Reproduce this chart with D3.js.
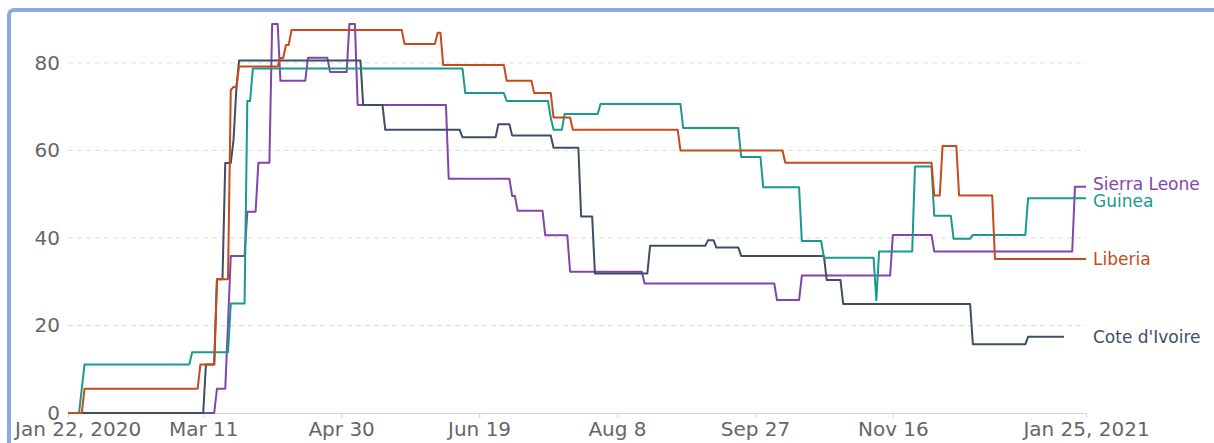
<!DOCTYPE html>
<html lang="en">

<head>
    <meta charset="UTF-8">
    <script src="https://d3js.org/d3.v7.min.js"></script>
    <style>
        body {
            margin: 0;
            background: #fff;
        }

        svg text {
            font-family: "DejaVu Sans", sans-serif;
        }

        .grid line {
            stroke: #dcdcdc;
            stroke-dasharray: 5 4;
        }

        .x-axis path,
        .x-axis line {
            stroke: #d6d6d6;
        }

        .x-axis text,
        .y-label {
            fill: #666;
            font-size: 20px;
        }

        .series {
            fill: none;
            stroke-width: 2;
            stroke-linejoin: round;
        }
    </style>
    <title>stringency</title>
</head>

<body>
    <svg width="1214" height="443"></svg>
    <script>
        // country names, in drawing order (last one ends up on top)
        const countries = ['Sierra Leone', "Cote d'Ivoire", 'Guinea', 'Liberia'];
        const colors = ['#8245ad', '#3e4f63', '#189a8d', '#c9491a'];

        // each series is a list of [date the value changed, new value]
        const sierraLeone = [
            ['2020-01-22', 0], ['2020-03-16', 5.56], ['2020-03-20', 20.4], ['2020-03-21', 35.9],
            ['2020-03-27', 46.0], ['2020-03-31', 57.2], ['2020-04-05', 88.89], ['2020-04-08', 75.9],
            ['2020-04-18', 81.2], ['2020-04-26', 77.9], ['2020-05-03', 88.89], ['2020-05-06', 70.4],
            ['2020-06-08', 53.5], ['2020-07-01', 49.6], ['2020-07-03', 46.2], ['2020-07-13', 40.6],
            ['2020-07-22', 32.3], ['2020-08-18', 29.6], ['2020-10-05', 25.8], ['2020-10-14', 31.4],
            ['2020-11-16', 40.7], ['2020-12-01', 36.9], ['2021-01-21', 51.7]
        ];
        const coteDIvoire = [
            ['2020-01-22', 0], ['2020-03-12', 11.11], ['2020-03-16', 30.56], ['2020-03-19', 57.1],
            ['2020-03-22', 62.4], ['2020-03-23', 73.8], ['2020-03-24', 80.56], ['2020-05-08', 70.4],
            ['2020-05-16', 64.7], ['2020-06-13', 63.0], ['2020-06-26', 66.0], ['2020-07-01', 63.4],
            ['2020-07-16', 60.6], ['2020-07-26', 44.9], ['2020-07-31', 31.9], ['2020-08-20', 38.2],
            ['2020-09-10', 39.5], ['2020-09-13', 37.8], ['2020-09-22', 35.9], ['2020-10-23', 30.4],
            ['2020-10-29', 24.9], ['2020-12-15', 15.7], ['2021-01-04', 17.4]
        ];
        const guinea = [
            ['2020-01-22', 0], ['2020-01-27', 5.56], ['2020-01-28', 11.11], ['2020-03-07', 13.89],
            ['2020-03-21', 25], ['2020-03-27', 71.3], ['2020-03-29', 78.7], ['2020-06-14', 73.1],
            ['2020-06-29', 71.3], ['2020-07-15', 67.4], ['2020-07-16', 64.7], ['2020-07-20', 68.3],
            ['2020-08-02', 70.6], ['2020-09-01', 65.1], ['2020-09-22', 58.5], ['2020-09-30', 51.6],
            ['2020-10-14', 39.3], ['2020-10-22', 35.5], ['2020-11-10', 25.8], ['2020-11-11', 36.9],
            ['2020-11-24', 56.3], ['2020-12-01', 45.1], ['2020-12-08', 39.8], ['2020-12-15', 40.7],
            ['2021-01-04', 49.1]
        ];
        const liberia = [
            ['2020-01-22', 0], ['2020-01-28', 5.56], ['2020-03-10', 11.11], ['2020-03-16', 30.56],
            ['2020-03-21', 73.8], ['2020-03-22', 74.5], ['2020-03-24', 79.2], ['2020-04-08', 81.1],
            ['2020-04-10', 84.1], ['2020-04-12', 87.5], ['2020-05-23', 84.3], ['2020-06-04', 86.9],
            ['2020-06-06', 79.5], ['2020-06-29', 75.9], ['2020-07-09', 73.1], ['2020-07-16', 67.5],
            ['2020-07-23', 64.7], ['2020-08-31', 60.0], ['2020-10-08', 57.2], ['2020-12-01', 49.7],
            ['2020-12-04', 61.0], ['2020-12-10', 49.7], ['2020-12-23', 35.2]
        ];
        // last day with data for each country
        const endDates = ['2021-01-25', '2021-01-17', '2021-01-25', '2021-01-25'];

        // axis ticks
        const tickDates = ['2020-01-22', '2020-03-11', '2020-04-30', '2020-06-19', '2020-08-08',
            '2020-09-27', '2020-11-16', '2021-01-25'];
        const tickLabels = ['Jan 22, 2020', 'Mar 11', 'Apr 30', 'Jun 19', 'Aug 8', 'Sep 27', 'Nov 16', 'Jan 25, 2021'];
        const yTicks = [0, 20, 40, 60, 80];

        const parse = d3.utcParse('%Y-%m-%d');

        // turn the change list into daily-style points: hold the old value
        // until the day before the change, then move to the new one
        function expand(steps, end) {
            const pts = [];
            steps.forEach(([d, v], i) => {
                const date = parse(d);
                if (i > 0) pts.push({ date: d3.utcDay.offset(date, -1), value: steps[i - 1][1] });
                pts.push({ date, value: v });
            });
            pts.push({ date: parse(end), value: steps[steps.length - 1][1] });
            return pts;
        }

        const allSteps = [sierraLeone, coteDIvoire, guinea, liberia];
        const series = countries.map((name, i) => ({
            name,
            color: colors[i],
            points: expand(allSteps[i], endDates[i])
        }));

        const svg = d3.select('svg');
        const width = +svg.attr('width'), height = +svg.attr('height');
        const margin = { top: 24, right: 128, bottom: 30, left: 68 };

        // blue frame round the chart
        svg.append('rect')
            .attr('x', 9).attr('y', 10)
            .attr('width', width + 20).attr('height', height + 20)
            .attr('rx', 5)
            .attr('fill', 'none')
            .attr('stroke', '#8eaadc')
            .attr('stroke-width', 4);

        const xScale = d3.scaleUtc()
            .domain([parse(tickDates[0]), parse(tickDates[tickDates.length - 1])])
            .range([margin.left, width - margin.right]);

        const maxVal = d3.max(allSteps, s => d3.max(s, d => d[1]));
        const yScale = d3.scaleLinear()
            .domain([0, maxVal])
            .range([height - margin.bottom, margin.top]);

        // dashed grid lines (none at 0, the axis line sits there)
        svg.append('g').attr('class', 'grid')
            .selectAll('line')
            .data(yTicks.filter(t => t > 0))
            .join('line')
            .attr('x1', xScale.range()[0])
            .attr('x2', xScale.range()[1])
            .attr('y1', d => yScale(d))
            .attr('y2', d => yScale(d));

        // y labels
        svg.append('g')
            .selectAll('text')
            .data(yTicks)
            .join('text')
            .attr('class', 'y-label')
            .attr('x', margin.left - 8)
            .attr('y', d => yScale(d))
            .attr('text-anchor', 'end')
            .attr('dominant-baseline', 'central')
            .text(d => d);

        // x axis
        const xAxis = svg.append('g')
            .attr('class', 'x-axis')
            .attr('transform', `translate(0, ${height - margin.bottom})`)
            .call(d3.axisBottom(xScale)
                .tickValues(tickDates.map(parse))
                .tickFormat((d, i) => tickLabels[i])
                .tickSize(5)
                .tickPadding(4)
                .tickSizeOuter(0));
        xAxis.select('.domain').attr('stroke', '#d6d6d6');

        // keep the first date label inside the frame
        xAxis.selectAll('.tick text').each(function () {
            const box = this.getBBox();
            const tx = +d3.select(this.parentNode).attr('transform').match(/translate\(([-\d.]+)/)[1];
            const left = tx + box.x;
            if (left < 13) d3.select(this).attr('x', 13 - left);
        });

        const line = d3.line()
            .x(d => xScale(d.date))
            .y(d => yScale(d.value));

        svg.append('g')
            .selectAll('path')
            .data(series)
            .join('path')
            .attr('class', 'series')
            .attr('stroke', d => d.color)
            .attr('d', d => line(d.points));

        // end labels, nudged apart when they are too close
        const labels = series.map(s => {
            const last = s.points[s.points.length - 1];
            return { name: s.name, color: s.color, y: yScale(last.value) };
        }).sort((a, b) => a.y - b.y);
        const gap = 17;
        for (let k = 0; k < 5; k++) {
            for (let i = 1; i < labels.length; i++) {
                const diff = labels[i].y - labels[i - 1].y;
                if (diff < gap) {
                    const push = (gap - diff) / 2;
                    labels[i - 1].y -= push;
                    labels[i].y += push;
                }
            }
        }

        svg.append('g')
            .selectAll('text')
            .data(labels)
            .join('text')
            .attr('x', xScale.range()[1] + 7)
            .attr('y', d => d.y)
            .attr('dominant-baseline', 'central')
            .attr('fill', d => d.color)
            .style('font-size', '17px')
            .text(d => d.name);
    </script>
</body>

</html>
